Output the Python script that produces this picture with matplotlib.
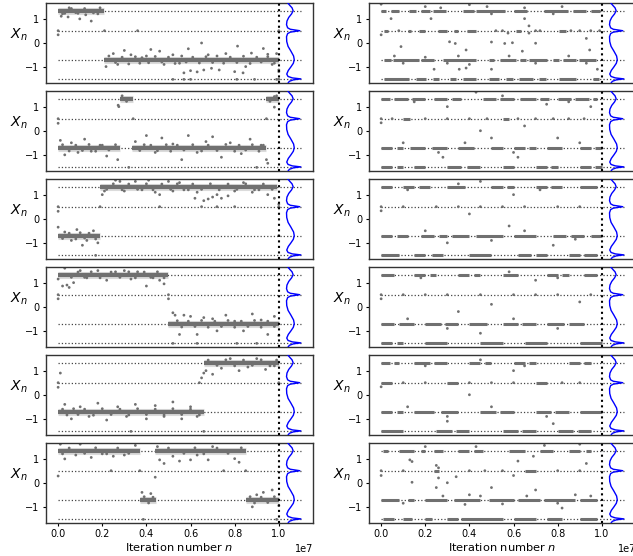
import numpy as np
import matplotlib
matplotlib.use("Agg")
import matplotlib.pyplot as plt

# the four attracting levels of the map
HI, MID, LO, BOT = 1.33, 0.5, -0.7, -1.52
LEVELS = [HI, MID, LO, BOT]

# stationary density drawn sideways after the last iteration (offset in units of 1e7)
DENS_Y = [1.66, 1.55, 1.45, 1.33, 1.2, 1.05, 0.9, 0.75, 0.62, 0.56, 0.5, 0.44,
          0.38, 0.25, 0.05, -0.15, -0.35, -0.55, -0.7, -0.85, -1.0, -1.15,
          -1.3, -1.4, -1.46, -1.5, -1.54, -1.6, -1.66]
DENS_W = [0.040, 0.050, 0.060, 0.065, 0.058, 0.045, 0.037, 0.035, 0.040, 0.052,
          0.095, 0.052, 0.040, 0.035, 0.036, 0.042, 0.055, 0.067, 0.070, 0.066,
          0.055, 0.043, 0.036, 0.042, 0.062, 0.100, 0.066, 0.048, 0.043]

# runs where the orbit sits on one level: (start, end, level), n in units of 1e7
L1_RUNS = [(0.0, 0.21, HI), (0.21, 1.0, LO)]
L1_PTS = [(0.0, 0.33), (0.0, 0.5), (0.014, 1.1), (0.045, 1.07), (0.06, 1.42),
          (0.098, 0.99), (0.125, 1.16), (0.15, 0.9), (0.03, 1.22), (0.08, 1.25),
          (0.18, 1.2), (0.21, 0.5), (0.36, 0.5), (1.0, 0.5),
          (0.02, 1.2), (0.05, 1.45), (0.09, 1.22), (0.12, 1.42), (0.16, 1.24), (0.19, 1.45),
          (0.217, -0.99), (0.25, -0.45), (0.27, -0.9), (0.30, -0.32), (0.33, -0.5),
          (0.37, -0.85), (0.40, -0.55), (0.42, -0.28), (0.46, -0.35), (0.48, -0.9),
          (0.52, -0.5), (0.55, -0.85), (0.59, -0.25), (0.57, -1.25), (0.60, -1.16),
          (0.63, -1.21), (0.65, -0.01), (0.66, -1.13), (0.68, -0.5), (0.695, -1.06),
          (0.73, -1.13), (0.76, -0.45), (0.80, -1.2), (0.813, -0.14), (0.838, -1.25),
          (0.85, -0.99), (0.876, -0.43), (0.93, -0.24), (0.95, -0.48), (0.99, -0.45),
          (1.0, -1.13), (1.0, -1.2), (0.97, -0.9),
          (0.23, -0.55), (0.26, -0.82), (0.29, -0.6), (0.32, -0.88), (0.35, -0.58),
          (0.38, -0.62), (0.41, -0.83), (0.44, -0.57), (0.47, -0.8), (0.5, -0.6),
          (0.53, -0.86), (0.56, -0.55), (0.58, -0.8), (0.61, -0.6), (0.64, -0.84),
          (0.67, -0.58), (0.7, -0.82), (0.72, -0.55), (0.75, -0.85), (0.78, -0.6),
          (0.81, -0.82), (0.84, -0.56), (0.87, -0.86), (0.9, -0.6), (0.92, -0.8),
          (0.95, -0.58), (0.98, -0.85),
          (0.52, BOT), (0.57, BOT), (0.60, BOT), (0.81, BOT), (0.89, BOT), (0.99, BOT),
          (1.0, BOT)]

L2_RUNS = [(0.0, 0.28, LO), (0.28, 0.34, HI), (0.335, 0.944, LO), (0.944, 1.0, HI)]
L2_PTS = [(0.0, 0.5), (0.0, 0.31), (0.272, 1.06), (0.275, 1.0), (0.01, -0.4),
          (0.03, -1.0), (0.06, -0.5), (0.09, -0.9), (0.12, -0.35), (0.15, -0.85),
          (0.19, -0.6), (0.22, -1.05), (0.27, -1.2), (0.34, 0.5), (0.32, BOT),
          (0.35, -0.45), (0.40, -0.2), (0.44, -0.9), (0.47, -0.3), (0.52, -0.55),
          (0.56, -1.2), (0.59, -0.2), (0.63, -0.9), (0.67, -0.45), (0.70, -0.25),
          (0.74, -1.1), (0.78, -0.5), (0.83, -0.95), (0.87, -0.35), (0.90, BOT),
          (0.92, -0.6), (0.944, -1.2), (0.95, -1.35), (0.944, 0.5), (0.98, 0.98),
          (0.99, 1.45),
          (0.02, -0.58), (0.05, -0.84), (0.08, -0.6), (0.11, -0.82), (0.14, -0.57),
          (0.17, -0.85), (0.2, -0.6), (0.23, -0.8), (0.26, -0.58), (0.29, 1.45),
          (0.31, 1.22), (0.37, -0.82), (0.39, -0.58), (0.42, -0.6), (0.45, -0.83),
          (0.49, -0.58), (0.51, -0.85), (0.54, -0.6), (0.57, -0.8), (0.61, -0.58),
          (0.65, -0.84), (0.68, -0.6), (0.72, -0.82), (0.76, -0.57), (0.8, -0.85),
          (0.82, -0.6), (0.85, -0.8), (0.88, -0.58), (0.91, -0.85), (0.93, -0.6),
          (0.96, 1.22), (0.98, 1.42)]

L3_RUNS = [(0.0, 0.19, LO), (0.19, 0.99, HI)]
L3_PTS = [(0.0, 0.5), (0.0, 0.31), (0.0, -0.35), (0.03, -0.55), (0.06, -0.9),
          (0.085, -0.45), (0.11, -1.1), (0.13, -0.9), (0.16, -0.5), (0.18, -1.0),
          (0.17, BOT), (0.19, 0.5), (0.2, 1.0), (0.21, 1.15), (0.26, 1.6), (0.28, 1.55),
          (0.3, 1.15), (0.35, 1.55), (0.38, 1.2), (0.41, 1.6), (0.44, 1.1), (0.46, 1.0),
          (0.5, 1.55), (0.52, 1.15), (0.55, 1.5), (0.59, 1.2), (0.62, 0.85), (0.63, 1.1),
          (0.66, 0.75), (0.68, 0.82), (0.70, 0.9), (0.72, 1.0), (0.74, 0.85), (0.77, 0.95),
          (0.8, 1.15), (0.84, 1.5), (0.88, 1.1), (0.91, 1.2), (0.95, 1.0), (0.98, 0.85),
          (0.46, 0.5), (0.65, 0.5), (0.72, 0.5), (0.8, 0.5), (1.0, 0.5), (1.0, 0.6),
          (1.0, LO),
          (0.02, -0.82), (0.05, -0.6), (0.08, -0.84), (0.1, -0.58), (0.12, -0.8),
          (0.14, -0.6), (0.17, -0.84), (0.22, 1.22), (0.25, 1.45), (0.29, 1.2),
          (0.32, 1.44), (0.36, 1.22), (0.4, 1.45), (0.43, 1.2), (0.47, 1.44),
          (0.51, 1.22), (0.54, 1.45), (0.57, 1.2), (0.61, 1.44), (0.65, 1.22),
          (0.69, 1.45), (0.73, 1.2), (0.77, 1.44), (0.81, 1.22), (0.85, 1.45),
          (0.89, 1.2), (0.93, 1.44), (0.97, 1.22)]

L4_RUNS = [(0.0, 0.5, HI), (0.5, 1.0, LO)]
L4_PTS = [(0.0, 0.5), (0.0, 0.33), (0.0, 1.15), (0.02, 0.86), (0.03, 1.6), (0.04, 0.9),
          (0.05, 0.8), (0.07, 1.0), (0.1, 1.5), (0.13, 1.2), (0.18, 1.5), (0.22, 1.1),
          (0.26, 1.45), (0.3, 1.5), (0.33, 1.15), (0.36, 1.45), (0.4, 0.86), (0.43, 1.2),
          (0.46, 1.1), (0.48, 0.95), (0.5, 0.5), (0.5, 0.33),
          (0.52, -0.25), (0.53, -0.35), (0.55, -1.15), (0.57, -0.35), (0.6, -0.4),
          (0.63, -1.15), (0.66, -0.45), (0.7, -0.5), (0.72, -1.0), (0.76, -0.35),
          (0.8, -0.6), (0.84, -1.0), (0.88, -0.3), (0.92, -0.55), (0.95, -1.15),
          (0.98, -0.4), (1.0, -1.2), (0.52, BOT), (0.63, BOT), (0.81, BOT), (0.9, BOT),
          (0.06, 1.22), (0.09, 1.44), (0.12, 1.22), (0.15, 1.45), (0.19, 1.2),
          (0.24, 1.44), (0.28, 1.22), (0.32, 1.45), (0.35, 1.2), (0.39, 1.44),
          (0.42, 1.22), (0.45, 1.45), (0.48, 1.2),
          (0.54, -0.58), (0.56, -0.84), (0.59, -0.6), (0.62, -0.82), (0.65, -0.57),
          (0.68, -0.85), (0.71, -0.6), (0.74, -0.82), (0.77, -0.57), (0.8, -0.85),
          (0.83, -0.6), (0.86, -0.82), (0.89, -0.57), (0.92, -0.85), (0.95, -0.6),
          (0.98, -0.82)]

L5_RUNS = [(0.0, 0.66, LO), (0.66, 1.0, HI)]
L5_PTS = [(0.0, 0.5), (0.0, 0.31), (0.01, 0.9), (0.03, -0.4), (0.06, -1.0), (0.1, -0.5),
          (0.14, -0.9), (0.18, -0.35), (0.22, -1.05), (0.27, -0.5), (0.31, -0.9),
          (0.35, -0.4), (0.4, -1.0), (0.44, -0.45), (0.48, -0.9), (0.52, -0.3),
          (0.56, -1.0), (0.6, -0.5), (0.63, -0.9), (0.33, BOT), (0.66, BOT),
          (0.64, 0.5), (0.65, 0.7), (0.66, 0.9), (0.67, 1.0), (0.7, 0.85), (0.74, 1.1),
          (0.78, 1.5), (0.82, 1.0), (0.86, 1.15), (0.9, 1.5), (0.94, 1.05), (0.98, 1.2),
          (1.0, 0.5),
          (0.02, -0.6), (0.04, -0.84), (0.07, -0.58), (0.09, -0.82), (0.12, -0.6),
          (0.16, -0.85), (0.2, -0.58), (0.24, -0.82), (0.28, -0.6), (0.32, -0.84),
          (0.36, -0.58), (0.4, -0.82), (0.44, -0.6), (0.48, -0.84), (0.52, -0.58),
          (0.56, -0.82), (0.6, -0.6), (0.64, -0.84),
          (0.68, 1.44), (0.72, 1.22), (0.76, 1.45), (0.8, 1.2), (0.84, 1.44),
          (0.88, 1.22), (0.92, 1.45), (0.96, 1.2), (0.99, 1.44)]

L6_RUNS = [(0.0, 0.37, HI), (0.37, 0.445, LO), (0.44, 0.85, HI), (0.85, 1.0, LO)]
L6_PTS = [(0.0, 0.28), (0.03, 0.99), (0.01, 1.6), (0.1, 1.6), (0.08, 1.15), (0.15, 1.05),
          (0.2, 1.2), (0.25, 1.1), (0.24, 0.5), (0.3, 1.15), (0.35, 1.55), (0.37, 0.5),
          (0.386, BOT), (0.38, -0.4), (0.42, -0.45), (0.44, 0.23), (0.45, 1.5),
          (0.46, 0.95), (0.48, 0.8), (0.52, 1.1), (0.55, 0.9), (0.6, 0.95), (0.63, 1.15),
          (0.68, 0.95), (0.7, 1.5), (0.75, 0.5), (0.8, 1.0), (0.82, 0.85), (0.85, 0.5),
          (0.88, -1.0), (0.9, -0.5), (0.93, -0.4), (0.97, -0.3), (0.99, BOT), (1.0, -0.95),
          (0.02, 1.2), (0.05, 1.44), (0.12, 1.22), (0.17, 1.45), (0.22, 1.2),
          (0.27, 1.44), (0.32, 1.22), (0.39, -0.58), (0.41, -0.84), (0.43, -0.6),
          (0.5, 1.44), (0.57, 1.22), (0.62, 1.45), (0.66, 1.2), (0.72, 1.44),
          (0.77, 1.22), (0.83, 1.45), (0.87, -0.58), (0.89, -0.84), (0.92, -0.6),
          (0.95, -0.82), (0.98, -0.58)]

R1_RUNS = [(0.0, 0.02, HI), (0.045, 0.083, HI), (0.125, 0.158, HI), (0.18, 0.22, HI),
           (0.234, 0.294, HI), (0.37, 0.42, HI), (0.43, 0.56, HI), (0.60, 0.66, HI),
           (0.74, 0.845, HI), (0.87, 0.93, HI), (0.95, 0.99, HI),
           (0.015, 0.03, MID), (0.12, 0.136, MID), (0.17, 0.2, MID), (0.256, 0.3, MID),
           (0.33, 0.347, MID), (0.39, 0.43, MID), (0.61, 0.633, MID), (0.807, 0.837, MID),
           (0.015, 0.045, LO), (0.053, 0.173, LO), (0.18, 0.24, LO), (0.28, 0.43, LO),
           (0.49, 0.51, LO), (0.54, 0.61, LO), (0.63, 0.656, LO), (0.67, 0.75, LO),
           (0.777, 0.807, LO), (0.822, 0.882, LO), (0.897, 0.973, LO),
           (0.015, 0.128, BOT), (0.158, 0.204, BOT), (0.234, 0.264, BOT), (0.31, 0.34, BOT),
           (0.37, 0.43, BOT), (0.49, 0.535, BOT), (0.566, 0.596, BOT), (0.626, 0.686, BOT),
           (0.716, 0.747, BOT), (0.807, 0.882, BOT), (0.958, 0.988, BOT)]
R1_PTS = [(0.0, 1.6), (0.0, 0.33), (0.045, 1.0), (0.226, 1.0), (0.09, -0.16),
          (0.31, 0.04), (0.336, -0.03), (0.385, -0.3), (0.354, -1.1), (0.385, -1.05),
          (0.24, -1.1), (0.5, 0.03), (0.5, -1.1), (0.56, -0.03), (0.595, 0.0),
          (0.64, -0.35), (0.7, -0.02), (0.67, 0.7), (0.67, 0.4), (0.575, 0.4),
          (0.93, 0.18), (0.945, -0.3), (0.98, -1.1), (0.2, 1.5), (0.4, 1.58), (0.48, 1.5),
          (0.82, 1.5), (0.65, 1.0), (0.72, 0.5), (0.86, 0.5), (0.9, 0.5), (0.95, 0.5),
          (0.99, 0.5), (0.7, 0.5), (0.08, 0.5), (0.52, 0.5), (0.55, 0.5),
          (0.06, -0.55), (0.1, -0.85), (0.2, -0.6), (0.3, -0.85), (0.35, -0.55),
          (0.4, -0.9), (0.58, -0.55), (0.7, -0.85), (0.85, -0.55), (0.93, -0.85),
          (0.5, 1.2), (0.65, 1.45), (0.78, 1.2), (0.27, 1.45)]

R2_RUNS = [(0.0, 0.04, HI), (0.06, 0.12, HI), (0.14, 0.2, HI), (0.24, 0.3, HI),
           (0.32, 0.36, HI), (0.46, 0.52, HI), (0.54, 0.6, HI), (0.63, 0.7, HI),
           (0.72, 0.76, HI), (0.8, 0.86, HI), (0.88, 0.94, HI), (0.96, 0.98, HI),
           (0.1, 0.13, MID), (0.55, 0.58, MID),
           (0.0, 0.05, LO), (0.07, 0.1, LO), (0.13, 0.2, LO), (0.23, 0.3, LO),
           (0.35, 0.42, LO), (0.5, 0.55, LO), (0.6, 0.65, LO), (0.67, 0.7, LO),
           (0.75, 0.82, LO), (0.9, 0.95, LO), (0.97, 1.0, LO),
           (0.0, 0.05, BOT), (0.07, 0.1, BOT), (0.15, 0.2, BOT), (0.3, 0.36, BOT),
           (0.39, 0.45, BOT), (0.55, 0.6, BOT), (0.7, 0.75, BOT), (0.77, 0.8, BOT),
           (0.9, 0.95, BOT), (0.97, 1.0, BOT)]
R2_PTS = [(0.0, 0.33), (0.0, 0.5), (0.2, 0.5), (0.4, 0.5), (0.7, 0.5), (0.85, 0.5),
          (0.43, 1.6), (0.3, 1.0), (0.45, 0.0), (0.5, -0.3), (0.62, -1.1), (0.75, 1.1),
          (0.8, -0.3), (0.28, -1.1), (0.95, 1.0), (0.65, 0.2), (0.05, 0.5), (0.3, 0.5),
          (0.48, 0.5), (0.62, 0.5), (0.78, 0.5), (0.92, 0.5), (0.1, -0.5), (0.26, -0.9),
          (0.38, -0.5), (0.6, -0.9), (0.9, -0.5), (0.15, 1.2), (0.55, 1.45), (0.85, 1.2)]

R3_RUNS = [(0.0, 0.05, HI), (0.1, 0.15, HI), (0.17, 0.22, HI), (0.3, 0.38, HI),
           (0.5, 0.55, HI), (0.57, 0.6, HI), (0.7, 0.75, HI), (0.77, 0.82, HI),
           (0.9, 0.98, HI),
           (0.0, 0.05, LO), (0.07, 0.12, LO), (0.18, 0.24, LO), (0.26, 0.3, LO),
           (0.32, 0.4, LO), (0.43, 0.55, LO), (0.6, 0.7, LO), (0.78, 0.84, LO),
           (0.86, 0.92, LO), (0.95, 1.0, LO),
           (0.0, 0.08, BOT), (0.15, 0.2, BOT), (0.23, 0.28, BOT), (0.4, 0.5, BOT),
           (0.62, 0.68, BOT), (0.7, 0.75, BOT), (0.85, 0.9, BOT), (0.92, 0.98, BOT)]
R3_PTS = [(0.0, 0.33), (0.0, 0.5), (0.25, 0.5), (0.45, 0.5), (0.65, 0.5), (0.9, 0.5),
          (0.4, 0.2), (0.58, -0.3), (0.6, 1.0), (0.78, -1.1), (0.3, -1.0), (0.1, 0.5),
          (0.35, 0.5), (0.55, 0.5), (0.8, 0.5), (0.2, -0.5), (0.5, -0.9), (0.65, -0.5),
          (0.88, -0.85), (0.12, 1.2), (0.35, 1.45), (0.72, 1.2), (0.45, 1.55)]

R4_RUNS = [(0.0, 0.06, HI), (0.15, 0.2, HI), (0.22, 0.25, HI), (0.35, 0.4, HI),
           (0.42, 0.45, HI), (0.55, 0.62, HI), (0.75, 0.8, HI), (0.82, 0.85, HI),
           (0.92, 0.98, HI),
           (0.0, 0.06, LO), (0.08, 0.15, LO), (0.2, 0.27, LO), (0.29, 0.35, LO),
           (0.4, 0.48, LO), (0.55, 0.62, LO), (0.64, 0.7, LO), (0.75, 0.83, LO),
           (0.85, 0.92, LO),
           (0.0, 0.05, BOT), (0.07, 0.1, BOT), (0.2, 0.3, BOT), (0.45, 0.55, BOT),
           (0.65, 0.75, BOT), (0.9, 1.0, BOT)]
R4_PTS = [(0.0, 0.33), (0.0, 0.5), (0.1, 0.5), (0.3, 0.5), (0.6, 0.5), (0.8, 0.5),
          (0.5, 0.1), (0.35, -0.2), (0.7, 1.1), (0.45, -1.1), (0.9, 0.2), (0.2, 0.5),
          (0.45, 0.5), (0.7, 0.5), (0.95, 0.5), (0.12, -0.5), (0.3, -0.9), (0.6, -0.5),
          (0.8, -0.9), (0.18, 1.2), (0.58, 1.45), (0.8, 1.2)]

R5_RUNS = [(0.0, 0.04, HI), (0.06, 0.08, HI), (0.15, 0.22, HI), (0.24, 0.3, HI),
           (0.4, 0.45, HI), (0.47, 0.5, HI), (0.6, 0.65, HI), (0.67, 0.7, HI),
           (0.85, 0.9, HI), (0.92, 0.95, HI),
           (0.0, 0.05, MID), (0.3, 0.35, MID), (0.7, 0.75, MID),
           (0.0, 0.05, LO), (0.07, 0.1, LO), (0.15, 0.24, LO), (0.27, 0.35, LO),
           (0.45, 0.52, LO), (0.54, 0.6, LO), (0.7, 0.77, LO), (0.79, 0.85, LO),
           (0.9, 1.0, LO),
           (0.0, 0.1, BOT), (0.25, 0.32, BOT), (0.34, 0.4, BOT), (0.55, 0.62, BOT),
           (0.64, 0.7, BOT), (0.8, 0.87, BOT), (0.89, 0.95, BOT)]
R5_PTS = [(0.0, 0.33), (0.2, 0.5), (0.5, 0.5), (0.9, 0.5), (0.4, 0.0), (0.6, 1.0),
          (0.78, -1.2), (0.3, -1.1), (0.1, 0.5), (0.4, 0.5), (0.6, 0.5), (0.82, 0.5),
          (0.12, -0.5), (0.3, -0.9), (0.5, -0.5), (0.75, -0.9), (0.2, 1.2), (0.45, 1.45),
          (0.65, 1.2)]

R6_RUNS = [(0.01, 0.03, HI), (0.08, 0.15, HI), (0.18, 0.2, HI), (0.24, 0.28, HI),
           (0.35, 0.4, HI), (0.42, 0.46, HI), (0.58, 0.65, HI), (0.72, 0.78, HI),
           (0.85, 0.9, HI), (0.93, 0.95, HI),
           (0.24, 0.26, MID), (0.65, 0.7, MID),
           (0.0, 0.08, LO), (0.12, 0.15, LO), (0.2, 0.3, LO), (0.33, 0.45, LO),
           (0.49, 0.6, LO), (0.62, 0.72, LO), (0.74, 0.88, LO), (0.9, 0.98, LO),
           (0.01, 0.06, BOT), (0.1, 0.14, BOT), (0.2, 0.23, BOT), (0.3, 0.35, BOT),
           (0.36, 0.55, BOT), (0.6, 0.7, BOT), (0.75, 0.82, BOT), (0.9, 0.98, BOT)]
R6_PTS = [(0.0, 0.3), (0.0, 0.5), (0.13, 0.95), (0.14, 0.88), (0.14, 0.02), (0.2, 1.5),
          (0.25, 0.72), (0.26, 0.62), (0.26, 0.2), (0.25, -0.2), (0.3, 0.0), (0.34, 0.25),
          (0.4, -0.5), (0.43, 1.5), (0.5, -0.2), (0.6, 0.3), (0.62, 0.9), (0.69, 1.1),
          (0.74, 1.55), (0.7, -0.3), (0.82, -1.05), (0.88, -0.5), (0.9, 1.6), (0.93, 0.8),
          (0.1, 0.5), (0.4, 0.5), (0.47, 0.5), (0.55, 0.5), (0.8, 0.5), (0.9, 0.5),
          (0.1, -0.85), (0.28, -0.55), (0.38, -0.9), (0.45, -0.55), (0.55, -0.88),
          (0.66, -0.55), (0.8, -0.85), (0.95, -0.55)]

LEFT = [(L1_RUNS, L1_PTS), (L2_RUNS, L2_PTS), (L3_RUNS, L3_PTS),
        (L4_RUNS, L4_PTS), (L5_RUNS, L5_PTS), (L6_RUNS, L6_PTS)]
RIGHT = [(R1_RUNS, R1_PTS), (R2_RUNS, R2_PTS), (R3_RUNS, R3_PTS),
         (R4_RUNS, R4_PTS), (R5_RUNS, R5_PTS), (R6_RUNS, R6_PTS)]

N_SCALE = 1e7
DOT = "#707070"


def draw_panel(ax, runs, pts, band_width, halo):
    for y in LEVELS:
        ax.hlines(y, 0, 1.1 * N_SCALE, colors="#444444", linestyles=":", lw=0.9, zorder=1)
    ax.axvline(N_SCALE, color="k", ls=":", lw=1.5, zorder=3)
    for x0, x1, y in runs:
        if halo:
            # soft spread of the iterates around the level
            ax.plot([x0 * N_SCALE, x1 * N_SCALE], [y, y], color=DOT, lw=band_width * 1.7,
                    alpha=0.25, solid_capstyle="butt", zorder=2)
        ax.plot([x0 * N_SCALE, x1 * N_SCALE], [y, y], color=DOT, lw=band_width,
                solid_capstyle="butt", zorder=2)
    xs = np.array([p[0] for p in pts]) * N_SCALE
    ys = np.array([p[1] for p in pts])
    ax.scatter(xs, ys, s=4, color=DOT, edgecolors="none", zorder=2)
    ax.plot(N_SCALE * (1 + np.array(DENS_W)), DENS_Y, color="blue", lw=1.0, zorder=4)
    ax.set_ylim(-1.65, 1.65)
    ax.set_yticks([-1, 0, 1])
    ax.set_xticks(np.arange(0, 1.01, 0.2) * N_SCALE)
    ax.tick_params(labelsize=7, length=2.5, width=0.8, pad=2.5)
    ax.set_ylabel("$X_n$", rotation=0, fontsize=10)
    for sp in ax.spines.values():
        sp.set_color("#333333")
        sp.set_linewidth(1.0)


fig = plt.figure(figsize=(6.33, 5.56), dpi=100)
W, H = 633.0, 556.0
for col, panels in enumerate([LEFT, RIGHT]):
    left = [46, 369][col] / W
    for row, (runs, pts) in enumerate(panels):
        top = 3 + 88 * row
        ax = fig.add_axes([left, 1 - (top + 79.5) / H, 267 / W, 79.5 / H])
        draw_panel(ax, runs, pts, 3.0 if col == 0 else 2.2, col == 0)
        if row < 5:
            ax.tick_params(axis="x", bottom=False, labelbottom=False)
        else:
            ax.set_xlabel("Iteration number $n$", fontsize=8.2, labelpad=1)
            ax.xaxis.get_offset_text().set_fontsize(7)

fig.savefig("out.png", dpi=100)
